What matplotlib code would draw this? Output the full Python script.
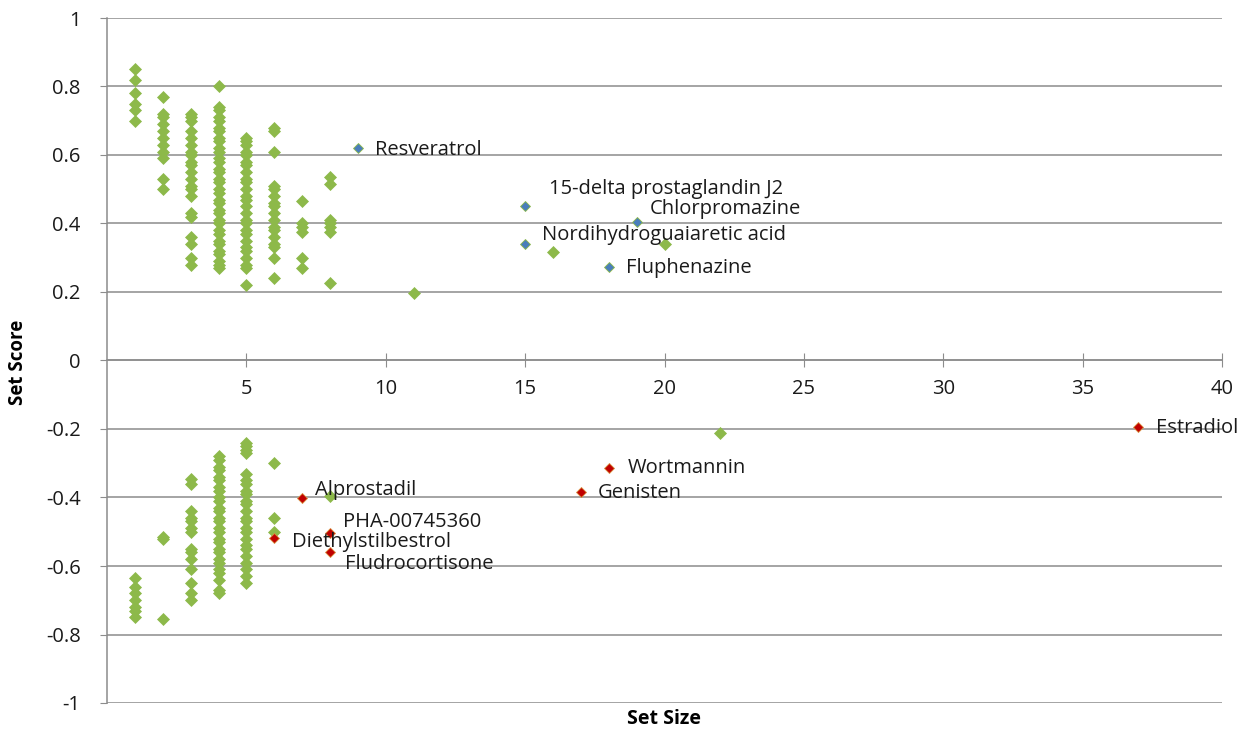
import matplotlib.pyplot as plt

# green points: scores per set size
size1_scores = [0.85, 0.82, 0.78, 0.75, 0.73, 0.70,
                -0.635, -0.66, -0.68, -0.70, -0.72, -0.73, -0.75]
size2_scores = [0.77, 0.72, 0.71, 0.69, 0.67, 0.65, 0.63, 0.61, 0.59, 0.53, 0.50,
                -0.515, -0.52, -0.755]
size3_scores = [0.72, 0.71, 0.70, 0.67, 0.65, 0.63, 0.61, 0.60, 0.58, 0.57, 0.55,
                0.53, 0.51, 0.50, 0.48, 0.43, 0.42, 0.36, 0.34, 0.30, 0.28,
                -0.345, -0.36, -0.44, -0.46, -0.47, -0.49, -0.50, -0.55, -0.56,
                -0.58, -0.61, -0.65, -0.68, -0.70]
size4_scores = [0.80, 0.74, 0.73, 0.71, 0.70, 0.68, 0.67, 0.65, 0.64, 0.62, 0.61,
                0.59, 0.58, 0.56, 0.55, 0.53, 0.52, 0.50, 0.49, 0.47, 0.46, 0.44,
                0.43, 0.41, 0.40, 0.38, 0.37, 0.35, 0.34, 0.32, 0.31, 0.29, 0.28,
                0.27,
                -0.28, -0.29, -0.31, -0.32, -0.34, -0.35, -0.37, -0.38, -0.40,
                -0.41, -0.43, -0.44, -0.46, -0.47, -0.49, -0.50, -0.52, -0.53,
                -0.55, -0.56, -0.58, -0.59, -0.61, -0.62, -0.64, -0.67, -0.68]
size5_scores = [0.65, 0.64, 0.63, 0.61, 0.60, 0.58, 0.57, 0.55, 0.53, 0.52, 0.50,
                0.48, 0.47, 0.45, 0.43, 0.41, 0.40, 0.38, 0.37, 0.35, 0.33, 0.32,
                0.30, 0.28, 0.27, 0.22,
                -0.24, -0.25, -0.26, -0.27, -0.33, -0.35, -0.36, -0.38, -0.39,
                -0.41, -0.42, -0.44, -0.46, -0.47, -0.49, -0.50, -0.52, -0.54,
                -0.55, -0.57, -0.59, -0.61, -0.63, -0.65]
size6_scores = [0.68, 0.67, 0.61, 0.51, 0.50, 0.48, 0.46, 0.45, 0.43, 0.41, 0.39,
                0.38, 0.36, 0.34, 0.33, 0.30, 0.24,
                -0.30, -0.46, -0.50]
size7_scores = [0.465, 0.40, 0.39, 0.375, 0.30, 0.27]
size8_scores = [0.535, 0.515, 0.41, 0.40, 0.39, 0.375, 0.225, -0.395]
other_sizes = [11, 16, 20, 22]
other_scores = [0.196, 0.318, 0.339, -0.213]

# highlighted compounds
up_names = ['Resveratrol', '15-delta prostaglandin J2', 'Chlorpromazine',
            'Nordihydroguaiaretic acid', 'Fluphenazine']
up_sizes = [9, 15, 19, 15, 18]
up_scores = [0.619, 0.45, 0.405, 0.341, 0.274]

down_names = ['Alprostadil', 'PHA-00745360', 'Diethylstilbestrol', 'Fludrocortisone',
              'Genisten', 'Wortmannin', 'Estradiol']
down_sizes = [7, 8, 6, 8, 17, 18, 37]
down_scores = [-0.402, -0.505, -0.517, -0.56, -0.385, -0.315, -0.193]

columns = [(1, size1_scores), (2, size2_scores), (3, size3_scores), (4, size4_scores),
           (5, size5_scores), (6, size6_scores), (7, size7_scores), (8, size8_scores)]
green_x, green_y = [], []
for sz, scores in columns:
    green_x += [sz] * len(scores)
    green_y += scores
green_x += other_sizes
green_y += other_scores

# label offsets in pixels (dx, dy)
up_offsets = [(17, -2), (24, 17), (13, 13), (17, 9), (17, -1)]
down_offsets = [(13, 8), (13, 11), (18, -4), (15, -12), (17, -1), (19, 0), (18, -1)]

plt.rcParams['font.family'] = ['Open Sans', 'DejaVu Sans']

fig = plt.figure(figsize=(12.45, 7.31), dpi=100)
ax = fig.add_axes([107 / 1245, 1 - 703 / 731, (1222 - 107) / 1245, (703 - 18) / 731])

ax.plot(green_x, green_y, 'D', ms=6.5, color='#8DB94A', mec='#8DB94A', mew=0.5,
        linestyle='none', zorder=3)
ax.plot(up_sizes, up_scores, 'D', ms=5, color='#4A7EBB', mec='#8DB94A', mew=0.6,
        linestyle='none', zorder=4)
ax.plot(down_sizes, down_scores, 'D', ms=5, color='#C00000', mec='#D89040', mew=0.6,
        linestyle='none', zorder=4)

for names, xs, ys, offs in [(up_names, up_sizes, up_scores, up_offsets),
                            (down_names, down_sizes, down_scores, down_offsets)]:
    for n, x, y, (dx, dy) in zip(names, xs, ys, offs):
        ax.annotate(n, (x, y), xytext=(dx, dy), textcoords='offset pixels',
                    ha='left', va='center', fontsize=14.5, color='#1a1a1a', zorder=5)

ax.set_xlim(0, 40)
ax.set_ylim(-1, 1)
ax.set_yticks([1, 0.8, 0.6, 0.4, 0.2, 0, -0.2, -0.4, -0.6, -0.8, -1])
ax.set_yticklabels(['1', '0.8', '0.6', '0.4', '0.2', '0', '-0.2', '-0.4', '-0.6',
                    '-0.8', '-1'])
ax.set_xticks([5, 10, 15, 20, 25, 30, 35, 40])
ax.grid(axis='y', color='#8c8c8c', linewidth=1.1)
ax.set_axisbelow(True)

for s in ['top', 'right']:
    ax.spines[s].set_visible(False)
ax.spines['bottom'].set_position(('data', 0))
ax.spines['bottom'].set_color('#8c8c8c')
ax.spines['left'].set_color('#8c8c8c')
ax.spines['bottom'].set_linewidth(1.1)
ax.spines['left'].set_linewidth(1.1)
ax.tick_params(axis='x', direction='inout', length=10, color='#8c8c8c',
               labelsize=14.5, pad=8, labelcolor='#1a1a1a')
ax.tick_params(axis='y', direction='out', length=5, color='#8c8c8c',
               labelsize=14.5, pad=14, labelcolor='#1a1a1a')

fig.text(18 / 1245, 1 - 362 / 731, 'Set Score', rotation=90, ha='center', va='center',
         fontsize=13.5, fontweight='bold')
fig.text(664 / 1245, 1 - 719 / 731, 'Set Size', ha='center', va='center',
         fontsize=14, fontweight='bold')

fig.savefig('out.png', dpi=100)
